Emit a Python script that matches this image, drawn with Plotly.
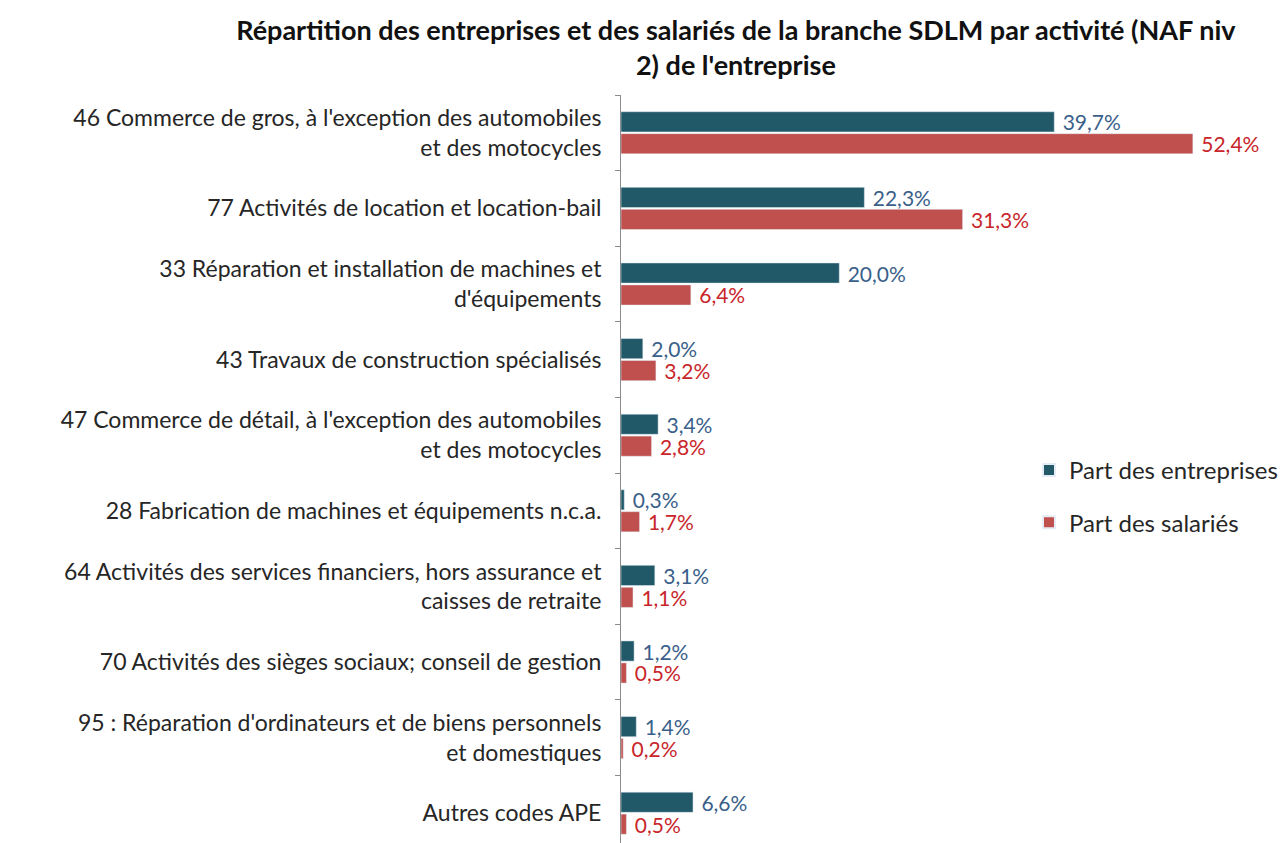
import plotly.graph_objects as go

# Data (percentages)
categories = [
    "46 Commerce de gros, à l'exception des automobiles<br>et des motocycles",
    "77 Activités de location et location-bail",
    "33 Réparation et installation de machines et<br>d'équipements",
    "43 Travaux de construction spécialisés",
    "47 Commerce de détail, à l'exception des automobiles<br>et des motocycles",
    "28 Fabrication de machines et équipements n.c.a.",
    "64 Activités des services financiers, hors assurance et<br>caisses de retraite",
    "70 Activités des sièges sociaux; conseil de gestion",
    "95 : Réparation d'ordinateurs et de biens personnels<br>et domestiques",
    "Autres codes APE",
]
part_entreprises = [39.7, 22.3, 20.0, 2.0, 3.4, 0.3, 3.1, 1.2, 1.4, 6.6]
part_salaries = [52.4, 31.3, 6.4, 3.2, 2.8, 1.7, 1.1, 0.5, 0.2, 0.5]

FONT = "Lato"
TEAL = "#215968"
RED = "#C0504D"


def fmt(v):
    # small gap after the bar end, French decimal comma
    return "\u00a0" + f"{v:.1f}%".replace(".", ",")


fig = go.Figure()
fig.add_trace(go.Bar(
    y=categories, x=part_entreprises, orientation="h",
    name="Part des entreprises", marker_color=TEAL, legendgroup="e",
    text=[fmt(v) for v in part_entreprises], textposition="outside",
    textfont=dict(family=FONT, size=21, color="#3A5F8A"),
    constraintext="none", cliponaxis=False,
))
fig.add_trace(go.Bar(
    y=categories, x=part_salaries, orientation="h",
    name="Part des salariés", marker_color=RED, legendgroup="s",
    text=[fmt(v) for v in part_salaries], textposition="outside",
    textfont=dict(family=FONT, size=21, color="#C8262B"),
    constraintext="none", cliponaxis=False,
))

fig.update_layout(
    width=1286, height=843,
    paper_bgcolor="white", plot_bgcolor="white",
    margin=dict(l=613, r=16, t=87, b=0),
    barmode="group", bargap=0.42, bargroupgap=0.08,
    font=dict(family=FONT, size=23, color="#262626"),
    title=dict(
        text="Répartition des entreprises et des salariés de la branche SDLM par activité (NAF niv<br>2) de l'entreprise",
        x=0.566, xanchor="center", y=0.962, yanchor="top",
        font=dict(family=FONT, size=27, color="#111111", weight="bold"),
    ),
    legend=dict(
        x=0.621, y=0.469, xanchor="left", yanchor="middle",
        font=dict(family=FONT, size=24, color="#262626"),
        itemsizing="constant", tracegroupgap=18, bgcolor="rgba(0,0,0,0)",
    ),
    showlegend=True,
)
fig.update_xaxes(range=[0, 60.2], visible=False)
fig.update_yaxes(
    autorange="reversed", showline=True, linecolor="#8c8c8c", linewidth=1,
    ticks="outside", tickson="boundaries", ticklen=5, tickcolor="#8c8c8c",
    ticklabelstandoff=14,
)

fig.write_html("out.html")
